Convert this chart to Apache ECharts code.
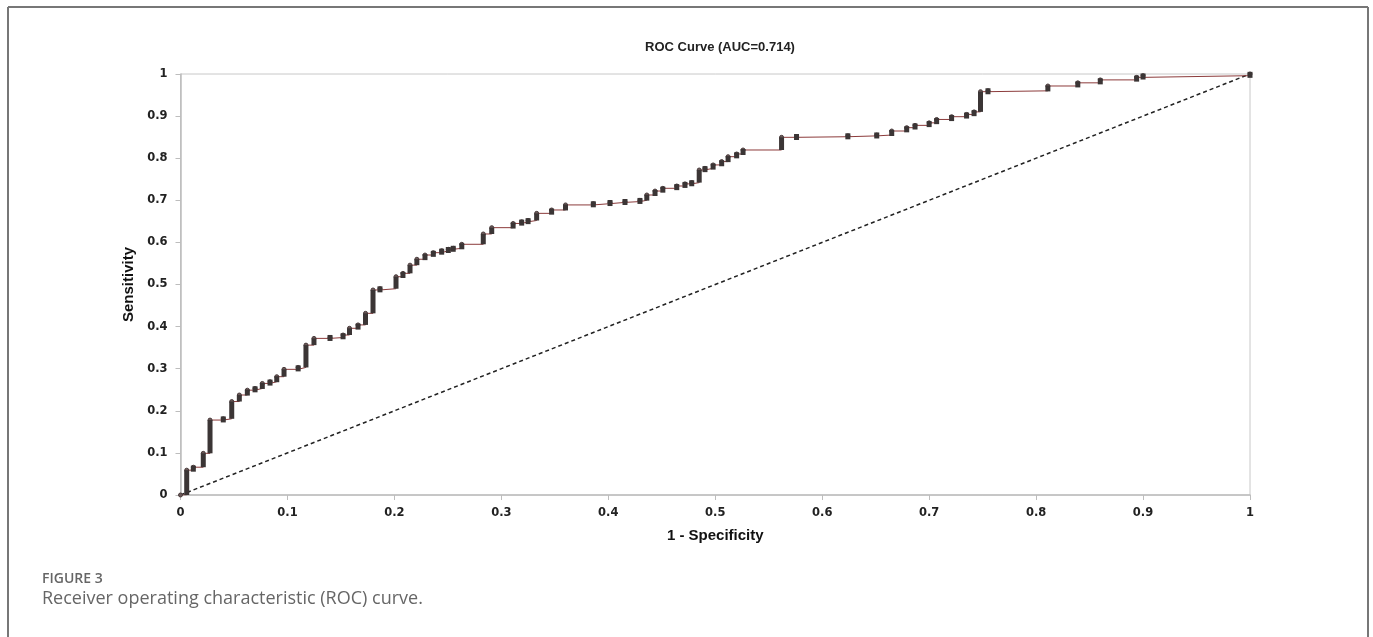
<!DOCTYPE html>
<html>
<head>
<meta charset="utf-8">
<script src="https://cdn.jsdelivr.net/npm/echarts@6/dist/echarts.min.js"></script>
<style>
  html, body { margin: 0; padding: 0; background: #fff; }
  #main { width: 1373px; height: 637px; }
</style>
</head>
<body>
<div id="main"></div>
<script>
// ROC points (1 - specificity, sensitivity)
var fpr = [0, 0.0058, 0.012, 0.0213, 0.0276, 0.04, 0.0479, 0.055, 0.0625, 0.0697, 0.0765, 0.0837, 0.09, 0.0968,
  0.110, 0.1173, 0.1248, 0.1398, 0.152, 0.158, 0.166, 0.173, 0.18, 0.1865, 0.2015, 0.208, 0.2146, 0.221, 0.2286,
  0.2364, 0.2442, 0.2504, 0.255, 0.263, 0.2831, 0.291, 0.311, 0.319, 0.325, 0.333, 0.347, 0.360, 0.386, 0.4016,
  0.4156, 0.4296, 0.436, 0.4437, 0.451, 0.464, 0.4717, 0.478, 0.485, 0.4904, 0.498, 0.506, 0.512, 0.520, 0.526,
  0.562, 0.576, 0.624, 0.651, 0.665, 0.679, 0.6868, 0.700, 0.707, 0.721, 0.735, 0.742, 0.748, 0.755, 0.811,
  0.839, 0.86, 0.894, 0.9, 1];
var tpr = [0, 0.059, 0.066, 0.099, 0.178, 0.181, 0.222, 0.2375, 0.249, 0.253, 0.265, 0.269, 0.281, 0.2985,
  0.303, 0.356, 0.372, 0.374, 0.38, 0.396, 0.404, 0.4315, 0.487, 0.49, 0.5185, 0.5265, 0.546, 0.56, 0.570,
  0.5756, 0.5803, 0.5836, 0.586, 0.5955, 0.62, 0.635, 0.645, 0.649, 0.652, 0.669, 0.677, 0.689, 0.692, 0.695,
  0.697, 0.70, 0.7126, 0.722, 0.7285, 0.734, 0.739, 0.742, 0.772, 0.776, 0.784, 0.792, 0.8036, 0.81, 0.8195,
  0.8496, 0.851, 0.853, 0.855, 0.8646, 0.8725, 0.878, 0.884, 0.892, 0.8986, 0.904, 0.910, 0.958, 0.960, 0.9715,
  0.979, 0.986, 0.992, 0.996, 1];
var chanceX = [0, 1];
var chanceY = [0, 1];

var rocData = fpr.map(function (x, i) { return [x, tpr[i]]; });
var chanceData = chanceX.map(function (x, i) { return [x, chanceY[i]]; });
// vertical rises of the step curve (x, from, to)
var rises = [];
for (var i = 1; i < fpr.length; i++) {
  if (tpr[i] > tpr[i - 1]) rises.push([fpr[i], tpr[i - 1], tpr[i]]);
}

var chart = echarts.init(document.getElementById('main'));
chart.setOption({
  animation: false,
  title: {
    text: 'ROC Curve (AUC=0.714)',
    left: 715, top: 36, textAlign: 'center',
    textStyle: { fontFamily: 'Liberation Sans', fontSize: 13, fontWeight: 'bold', color: '#222' }
  },
  grid: {
    left: 180.5, right: 123, top: 74, bottom: 142,
    show: true, borderColor: '#c8c8c8', borderWidth: 1
  },
  xAxis: {
    type: 'value', min: 0, max: 1, interval: 0.1,
    name: '1 - Specificity', nameLocation: 'middle', nameGap: 33,
    nameTextStyle: { fontFamily: 'Liberation Sans', fontSize: 15, fontWeight: 'bold', color: '#111' },
    axisLine: { show: true, lineStyle: { color: '#bdbdbd', width: 1.5 } },
    axisTick: { show: true, length: 5, lineStyle: { color: '#bdbdbd' } },
    axisLabel: { margin: 12, fontFamily: 'DejaVu Sans', fontSize: 11.5, fontWeight: 'bold', color: '#222' },
    splitLine: { show: false }
  },
  yAxis: {
    type: 'value', min: 0, max: 1, interval: 0.1,
    name: 'Sensitivity', nameLocation: 'middle', nameGap: 33,
    nameTextStyle: { fontFamily: 'Liberation Sans', fontSize: 15, fontWeight: 'bold', color: '#111' },
    axisLine: { show: true, lineStyle: { color: '#bdbdbd', width: 1.5 } },
    axisTick: { show: true, length: 5, lineStyle: { color: '#bdbdbd' } },
    axisLabel: { margin: 13, fontFamily: 'DejaVu Sans', fontSize: 11.5, fontWeight: 'bold', color: '#222' },
    splitLine: { show: false }
  },
  series: [
    {
      type: 'line', data: chanceData, symbol: 'none', z: 2,
      lineStyle: { color: '#222', width: 1.5, type: [4, 3] }
    },
    {
      type: 'line', data: rocData, step: 'end', symbol: 'circle', symbolSize: 4, z: 3,
      lineStyle: { color: '#8c3b3b', width: 1 },
      itemStyle: { color: '#6a5858', borderColor: '#4a3c3c', borderWidth: 1 }
    },
    {
      type: 'custom', data: rises, z: 4,
      renderItem: function (params, api) {
        var pb = api.coord([api.value(0), api.value(1)]);
        var pt = api.coord([api.value(0), api.value(2)]);
        var top = pt[1], h = pb[1] - pt[1];
        if (h < 6) { top = (pb[1] + pt[1]) / 2 - 3; h = 6; }
        return { type: 'rect', shape: { x: pb[0] - 2.5, y: top, width: 5, height: h }, style: { fill: '#3b3535' } };
      }
    }
  ],
  graphic: [
    { type: 'line', shape: { x1: 8, y1: 7, x2: 1368, y2: 7 }, style: { stroke: '#777', lineWidth: 2 } },
    { type: 'line', shape: { x1: 8, y1: 7, x2: 8, y2: 637 }, style: { stroke: '#777', lineWidth: 2 } },
    { type: 'line', shape: { x1: 1368, y1: 7, x2: 1368, y2: 637 }, style: { stroke: '#777', lineWidth: 2 } },
    { type: 'text', left: 42, top: 572, style: { text: 'FIGURE 3', font: '600 14px "Open Sans"', fill: '#666' } },
    { type: 'text', left: 42, top: 590, style: { text: 'Receiver operating characteristic (ROC) curve.', font: '18px "Open Sans"', fill: '#666' } }
  ]
});
</script>
</body>
</html>
